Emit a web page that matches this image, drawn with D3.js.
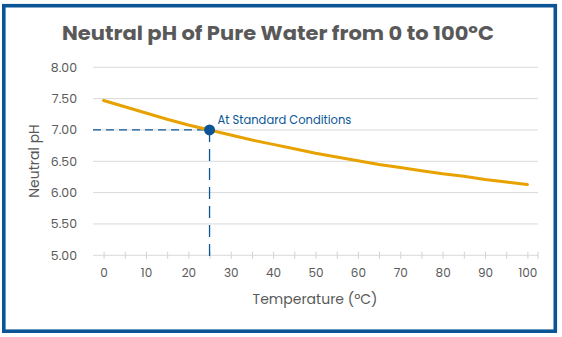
<!DOCTYPE html>
<html lang="en">
<head>
    <meta charset="UTF-8">
    <title>Neutral pH of Pure Water</title>
    <script src="https://d3js.org/d3.v7.min.js"></script>
    <style>
        body { margin: 0; background: #fff; }
        text { font-family: "Poppins", "Lato", "Open Sans", sans-serif; }
    </style>
</head>
<body>
    <script>
// temperature (°C) and neutral pH of pure water
var temps = [0, 5, 10, 15, 20, 25, 30, 35, 40, 45, 50, 55, 60, 65, 70, 75, 80, 85, 90, 95, 100];
var phValues = [7.47, 7.37, 7.27, 7.17, 7.08, 7.00, 6.92, 6.84, 6.77, 6.70, 6.63, 6.57, 6.51, 6.45, 6.40, 6.35, 6.30, 6.26, 6.21, 6.17, 6.13];
var yTicks = [5.0, 5.5, 6.0, 6.5, 7.0, 7.5, 8.0];
var xLabels = [0, 10, 20, 30, 40, 50, 60, 70, 80, 90, 100];
var standardTemp = 25;
var standardPh = 7.0;

var width = 562, height = 337;
var blue = '#0b5597', orange = '#e8a200', grey = '#595959';

var svg = d3.select('body').append('svg')
    .attr('width', width)
    .attr('height', height);

// frame
svg.append('rect')
    .attr('x', 3.8).attr('y', 5.7)
    .attr('width', 551.5).attr('height', 325.5)
    .attr('fill', '#fff')
    .attr('stroke', blue)
    .attr('stroke-width', 3.6);

// title
svg.append('text')
    .attr('x', 278).attr('y', 40)
    .attr('text-anchor', 'middle')
    .attr('font-size', 20)
    .attr('font-weight', 700)
    .attr('fill', grey)
    .attr('textLength', 432)
    .attr('lengthAdjust', 'spacingAndGlyphs')
    .text('Neutral pH of Pure Water from 0 to 100ºC');

var x = d3.scaleLinear().domain([-2.5, 102.5]).range([93, 538]);
var y = d3.scaleLinear().domain([5, 8]).range([255.3, 67.3]);

// horizontal gridlines
svg.append('g').selectAll('line')
    .data(yTicks.filter(function(d) { return d > 5; }))
    .join('line')
    .attr('x1', 93).attr('x2', 538)
    .attr('y1', function(d) { return y(d); })
    .attr('y2', function(d) { return y(d); })
    .attr('stroke', '#d9d9d9')
    .attr('stroke-width', 1);

// y axis labels
var yAxis = d3.axisLeft(y).tickValues(yTicks).tickFormat(d3.format('.2f')).tickSize(0).tickPadding(0);
svg.append('g')
    .attr('transform', 'translate(77,0)')
    .call(yAxis)
    .call(function(g) {
        g.select('.domain').remove();
        g.selectAll('text').attr('font-size', 12.5).attr('fill', grey)
            .style('font-family', '"Poppins", "Lato", "Open Sans", sans-serif');
    });

// x axis: ticks every 5, labels every 10
var xAxis = d3.axisBottom(x).tickValues(temps).tickSizeInner(7).tickSizeOuter(0)
    .tickFormat(function(d) { return xLabels.indexOf(d) >= 0 ? d : ''; });
svg.append('g')
    .attr('transform', 'translate(0,' + (y(5) - 3.5) + ')')
    .call(xAxis)
    .call(function(g) {
        g.select('.domain').remove();
        g.selectAll('.tick line').attr('stroke', '#d0d0d0');
        g.selectAll('text').attr('font-size', 12).attr('fill', grey).attr('dy', '1.25em')
            .style('font-family', '"Poppins", "Lato", "Open Sans", sans-serif');
    });
svg.append('line')
    .attr('x1', 93).attr('x2', 538)
    .attr('y1', y(5)).attr('y2', y(5))
    .attr('stroke', '#d9d9d9');
svg.append('line')
    .attr('x1', 538).attr('x2', 538)
    .attr('y1', y(5) - 3.5).attr('y2', y(5) + 3.5)
    .attr('stroke', '#d0d0d0');

// axis titles
svg.append('text')
    .attr('x', 315).attr('y', 304)
    .attr('text-anchor', 'middle')
    .attr('font-size', 14)
    .attr('fill', grey)
    .text('Temperature (ºC)');

svg.append('text')
    .attr('transform', 'translate(39,161) rotate(-90)')
    .attr('text-anchor', 'middle')
    .attr('font-size', 14)
    .attr('fill', grey)
    .text('Neutral pH');

// reference dashes to the standard point
svg.append('line')
    .attr('x1', 93).attr('x2', x(standardTemp))
    .attr('y1', y(standardPh)).attr('y2', y(standardPh))
    .attr('stroke', blue).attr('stroke-width', 1.3)
    .attr('stroke-dasharray', '8,5');
svg.append('line')
    .attr('x1', x(standardTemp)).attr('x2', x(standardTemp))
    .attr('y1', y(standardPh)).attr('y2', y(5) + 3.5)
    .attr('stroke', blue).attr('stroke-width', 1.3)
    .attr('stroke-dasharray', '12,7');

// pH curve
var line = d3.line()
    .x(function(d, i) { return x(temps[i]); })
    .y(function(d) { return y(d); });

svg.append('path')
    .datum(phValues)
    .attr('d', line)
    .attr('fill', 'none')
    .attr('stroke', orange)
    .attr('stroke-width', 3)
    .attr('stroke-linecap', 'round');

// standard conditions marker
svg.append('circle')
    .attr('cx', x(standardTemp)).attr('cy', y(standardPh))
    .attr('r', 5.5)
    .attr('fill', blue);

svg.append('text')
    .attr('x', x(standardTemp) + 8).attr('y', y(standardPh) - 6)
    .attr('font-size', 11.5)
    .attr('fill', blue)
    .text('At Standard Conditions');
    </script>
</body>
</html>
